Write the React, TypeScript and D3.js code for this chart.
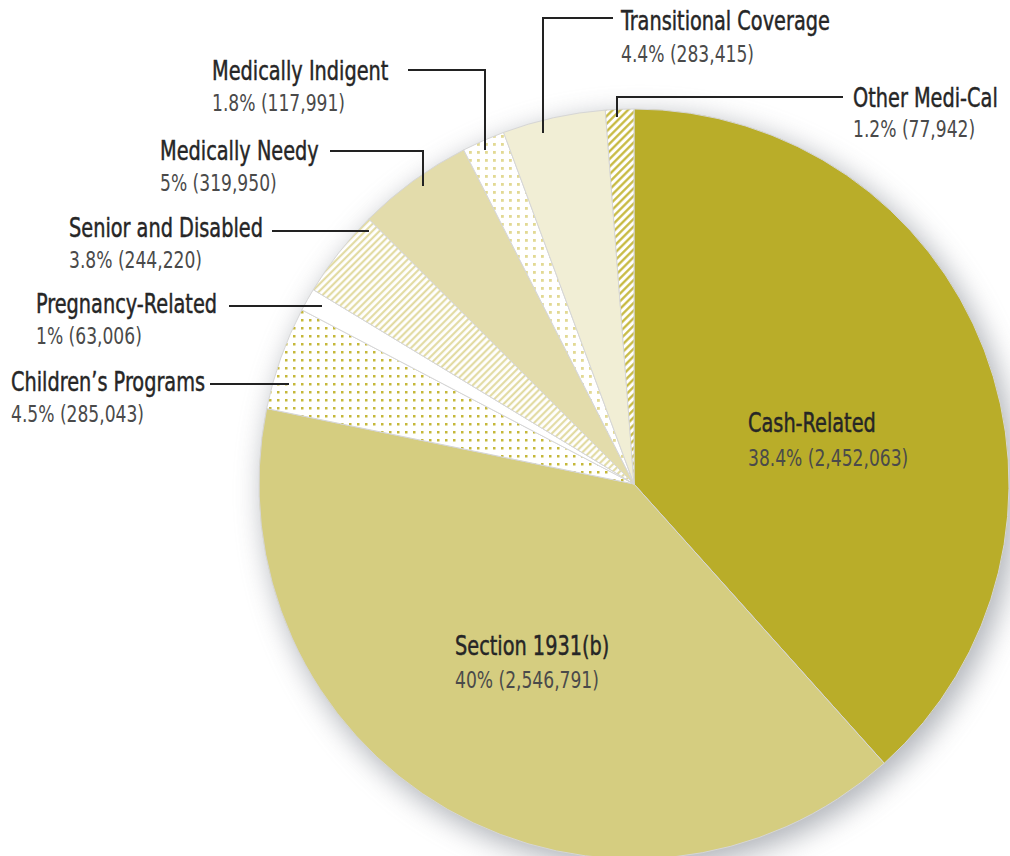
import React from "react";
import * as d3 from "d3";

// ---- data ----
const categories = [
  "Cash-Related",
  "Section 1931(b)",
  "Children\u2019s Programs",
  "Pregnancy-Related",
  "Senior and Disabled",
  "Medically Needy",
  "Medically Indigent",
  "Transitional Coverage",
  "Other Medi-Cal",
];
const counts = [2452063, 2546791, 285043, 63006, 244220, 319950, 117991, 283415, 77942];
const percentLabels = ["38.4%", "40%", "4.5%", "1%", "3.8%", "5%", "1.8%", "4.4%", "1.2%"];

// ---- styles / layout (not data) ----
const fills = [
  "#b9ad29",
  "#d5cd80",
  "url(#dotsDark)",
  "#ffffff",
  "url(#hatchLight)",
  "#e3dcab",
  "url(#dotsLight)",
  "#f1eed5",
  "url(#hatchDark)",
];

type Lay = { x: number; y1: number; y2: number; line?: number[][] };
const layout: Lay[] = [
  { x: 748, y1: 432, y2: 466 },
  { x: 455, y1: 655, y2: 688 },
  { x: 11, y1: 391, y2: 422, line: [[210, 384], [289, 384]] },
  { x: 36, y1: 313, y2: 344, line: [[229, 306], [322, 306]] },
  { x: 69, y1: 237, y2: 268, line: [[272, 231], [369, 231]] },
  { x: 160, y1: 160, y2: 191, line: [[330, 151], [423, 151], [423, 186]] },
  { x: 212, y1: 80, y2: 111, line: [[408, 70], [485, 70], [485, 150]] },
  { x: 621, y1: 30, y2: 62, line: [[613, 18], [543, 18], [543, 133]] },
  { x: 853, y1: 107, y2: 137, line: [[843, 97], [617, 97], [617, 117]] },
];

const W = 1010;
const H = 856;
const cx = 634;
const cy = 484;
const R = 375;
const FONT = "'DejaVu Sans Condensed', 'Liberation Sans Narrow', sans-serif";
const SX = 0.81;

const fmt = d3.format(",");

export default function App() {
  const pie = d3.pie<number>().sort(null).value((d) => d).startAngle(0).endAngle(2 * Math.PI);
  const arcs = pie(counts);
  const arc = d3.arc<d3.PieArcDatum<number>>().innerRadius(0).outerRadius(R);

  return (
    <svg
      width={W}
      height={H}
      style={{ position: "absolute", left: 0, top: 0, background: "#fff" }}
    >
      <defs>
        <filter id="shadow" x="-30%" y="-30%" width="160%" height="160%">
          <feGaussianBlur stdDeviation="14" />
        </filter>
        <pattern id="hatchDark" patternUnits="userSpaceOnUse" width="5.4" height="5.4" patternTransform="rotate(45)">
          <rect width="5.4" height="5.4" fill="#fff" />
          <line x1="1.3" y1="0" x2="1.3" y2="5.4" stroke="#c4b637" strokeWidth="2.2" />
        </pattern>
        <pattern id="hatchLight" patternUnits="userSpaceOnUse" width="5" height="5" patternTransform="rotate(45)">
          <rect width="5" height="5" fill="#fff" />
          <line x1="1.2" y1="0" x2="1.2" y2="5" stroke="#e0d89b" strokeWidth="2" />
        </pattern>
        <pattern id="dotsDark" patternUnits="userSpaceOnUse" width="8" height="8">
          <rect width="8" height="8" fill="#fff" />
          <rect x="3" y="3" width="2.5" height="2.5" fill="#c5b839" />
        </pattern>
        <pattern id="dotsLight" patternUnits="userSpaceOnUse" width="8" height="8">
          <rect width="8" height="8" fill="#fff" />
          <rect x="3" y="3" width="2.8" height="2.8" fill="#e2d993" />
        </pattern>
      </defs>

      <circle cx={cx + 6} cy={cy + 8} r={R + 2} fill="#7d828c" opacity={0.6} filter="url(#shadow)" />

      <g transform={`translate(${cx},${cy})`}>
        {arcs.map((a, i) => (
          <path key={i} d={arc(a) || ""} fill={fills[i]} stroke="#d6d6d6" strokeWidth={1} />
        ))}
      </g>

      {layout.map((l, i) =>
        l.line ? (
          <polyline
            key={"l" + i}
            points={l.line.map((p) => p.join(",")).join(" ")}
            fill="none"
            stroke="#222"
            strokeWidth={2}
          />
        ) : null
      )}

      {layout.map((l, i) => (
        <g key={"t" + i} style={{ fontFamily: FONT }}>
          <text
            transform={`translate(${l.x},${l.y1}) scale(${SX},1)`}
            fontSize={26.5}
            fill="#262626"
            stroke="#262626"
            strokeWidth={0.45}
          >
            {categories[i]}
          </text>
          <text transform={`translate(${l.x},${l.y2}) scale(${SX},1)`} fontSize={23.5} fill="#4a4a4a">
            {`${percentLabels[i]} (${fmt(counts[i])})`}
          </text>
        </g>
      ))}
    </svg>
  );
}
